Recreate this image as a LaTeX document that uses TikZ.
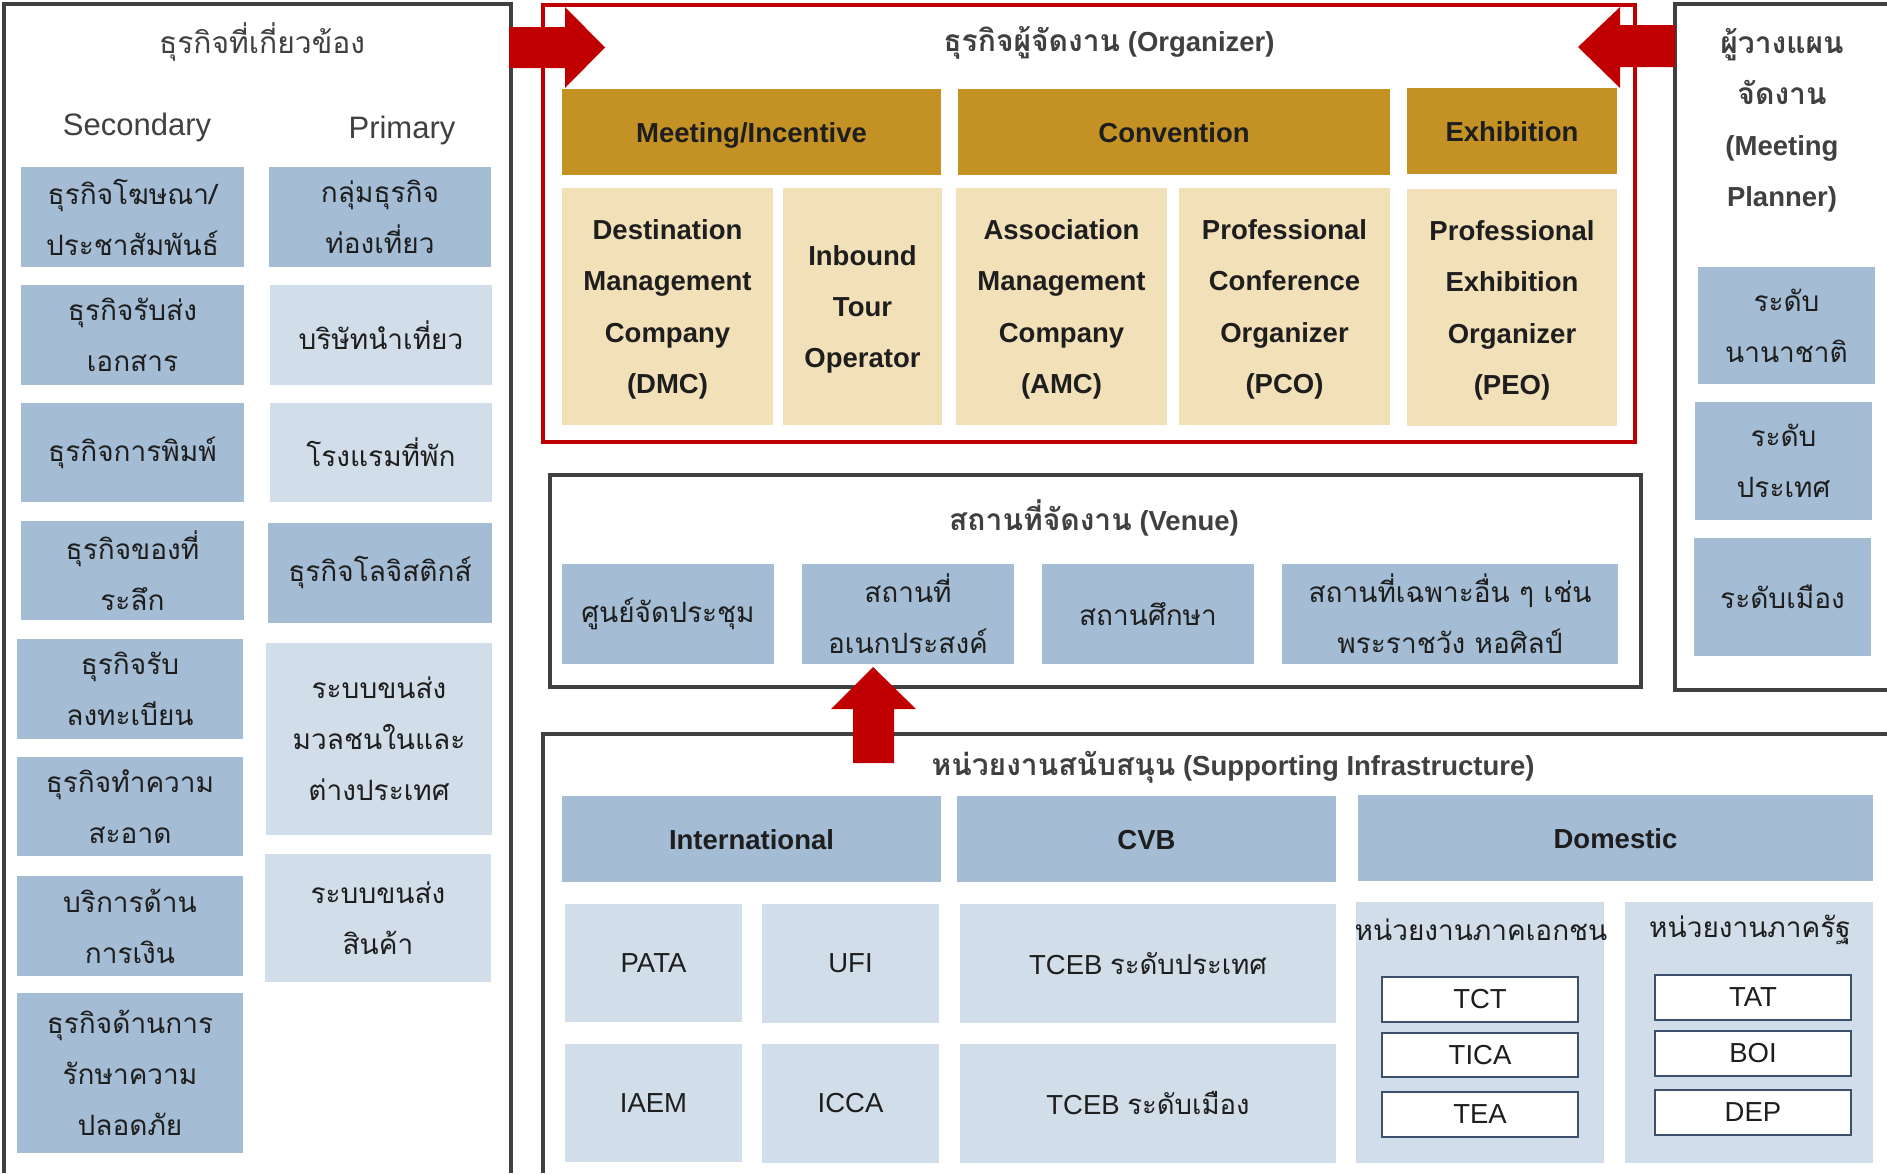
\documentclass[tikz,border=0pt]{standalone}
\usepackage{fontspec}
\setmainfont{Liberation Sans}
\newfontfamily\thai[Script=Thai]{Loma}
\definecolor{goldc}{RGB}{196,146,36}
\definecolor{beigec}{RGB}{242,224,184}
\definecolor{dbluec}{RGB}{164,188,212}
\definecolor{lbluec}{RGB}{209,221,232}
\definecolor{redc}{RGB}{192,0,0}
\definecolor{framec}{RGB}{64,64,64}
\definecolor{titlec}{RGB}{64,64,64}
\definecolor{txtc}{RGB}{30,30,30}
\definecolor{wbordc}{RGB}{60,80,110}
\newcommand\rbox[7]{\node[#1, minimum width={(#5)-(#3)}, minimum height={(#6)-(#4)}] (#2) at ({((#3)+(#5))/2},{((#4)+(#6))/2}) {#7};}
\newcommand\thaiT[1]{{\thai\fontsize{30}{36}\selectfont #1}}
\tikzset{
  base/.style={inner sep=0pt, outer sep=0pt, align=center, text=txtc},
  thaifnt/.style={font=\thai\fontsize{28}{51}\selectfont},
  dbox/.style={base, fill=dbluec, thaifnt},
  lbox/.style={base, fill=lbluec, thaifnt},
  ghead/.style={base, fill=goldc, text height=20pt, text depth=0pt, font=\bfseries\fontsize{27.5}{51}\selectfont},
  bsub/.style={base, fill=beigec, text depth=0pt, font=\bfseries\fontsize{27.5}{51.3}\selectfont},
  dhead/.style={base, fill=dbluec, text height=20pt, text depth=0pt, font=\bfseries\fontsize{27.5}{51}\selectfont},
  lat/.style={base, fill=lbluec, font=\fontsize{27.5}{51}\selectfont},
  panel/.style={base, fill=lbluec},
  wbox/.style={base, fill=white, draw=wbordc, line width=2pt, font=\fontsize{27.5}{33}\selectfont},
  frame/.style={draw=framec, line width=3.5pt},
  redframe/.style={draw=redc, line width=4pt},
  ttl/.style={inner sep=0pt, align=center, text=titlec},
  blockarrow/.style={fill=redc, draw=none},
}
\begin{document}
\begin{tikzpicture}[x=1pt,y=-1pt]
\useasboundingbox[fill=white] (0,0) rectangle (1887,1173);
% frames
\draw[frame] (4,1173) -- (4,4) -- (511,4) -- (511,1173);
\draw[frame] (1887,4) -- (1675,4) -- (1675,690) -- (1887,690);
\draw[frame] (550,475) rectangle (1641,687);
\draw[frame] (543,1173) -- (543,734) -- (1887,734);
\draw[redframe] (543,5) rectangle (1635,442);
% left panel
\node[ttl, font=\thai\fontsize{30}{36}\selectfont] (ltitle) at (262,42) {ธุรกิจที่เกี่ยวข้อง};
\node[ttl, font=\fontsize{31}{36}\selectfont] (sec) at (137,127) {Secondary};
\node[ttl, font=\fontsize{31}{36}\selectfont] (pri) at (402,130) {Primary};
\rbox{dbox}{s1}{21}{167}{244}{267}{ธุรกิจโฆษณา/\\ประชาสัมพันธ์}
\rbox{dbox}{s2}{21}{285}{244}{385}{ธุรกิจรับส่ง\\เอกสาร}
\rbox{dbox}{s3}{21}{403}{244}{502}{ธุรกิจการพิมพ์}
\rbox{dbox}{s4}{21}{521}{244}{620}{ธุรกิจของที่\\ระลึก}
\rbox{dbox}{s5}{17}{639}{243}{739}{ธุรกิจรับ\\ลงทะเบียน}
\rbox{dbox}{s6}{17}{757}{243}{856}{ธุรกิจทำความ\\สะอาด}
\rbox{dbox}{s7}{17}{876}{243}{976}{บริการด้าน\\การเงิน}
\rbox{dbox}{s8}{17}{993}{243}{1153}{ธุรกิจด้านการ\\รักษาความ\\ปลอดภัย}
\rbox{dbox}{p1}{269}{167}{491}{267}{กลุ่มธุรกิจ\\ท่องเที่ยว}
\rbox{lbox}{p2}{270}{285}{492}{385}{บริษัทนำเที่ยว}
\rbox{lbox}{p3}{270}{403}{492}{502}{โรงแรมที่พัก}
\rbox{dbox}{p4}{268}{523}{492}{623}{ธุรกิจโลจิสติกส์}
\rbox{lbox}{p5}{266}{643}{492}{835}{ระบบขนส่ง\\มวลชนในและ\\ต่างประเทศ}
\rbox{lbox}{p6}{265}{854}{491}{982}{ระบบขนส่ง\\สินค้า}
% organizer
\node[ttl, font=\bfseries\fontsize{27.5}{34}\selectfont] (otitle) at (1109,42.5) {\thaiT{ธุรกิจผู้จัดงาน} (Organizer)};
\rbox{ghead}{h1}{562}{89}{941}{175}{Meeting/Incentive}
\rbox{ghead}{h2}{958}{89}{1390}{175}{Convention}
\rbox{ghead}{h3}{1407}{88}{1617}{174}{Exhibition}
\rbox{bsub}{o1}{562}{188}{773}{425}{Destination\\Management\\Company\\(DMC)}
\rbox{bsub}{o2}{783}{188}{942}{425}{Inbound\\Tour\\Operator}
\rbox{bsub}{o3}{956}{188}{1167}{425}{Association\\Management\\Company\\(AMC)}
\rbox{bsub}{o4}{1179}{188}{1390}{425}{Professional\\Conference\\Organizer\\(PCO)}
\rbox{bsub}{o5}{1407}{189}{1617}{426}{Professional\\Exhibition\\Organizer\\(PEO)}
% planner
\node[ttl, font=\bfseries\fontsize{27.5}{51}\selectfont] (ptitle) at (1782,120) {\thaiT{ผู้วางแผน}\\\thaiT{จัดงาน}\\(Meeting\\Planner)};
\rbox{dbox}{r1}{1698}{267}{1875}{384}{ระดับ\\นานาชาติ}
\rbox{dbox}{r2}{1695}{402}{1872}{520}{ระดับ\\ประเทศ}
\rbox{dbox}{r3}{1694}{538}{1871}{656}{ระดับเมือง}
% venue
\node[ttl, font=\bfseries\fontsize{27.5}{34}\selectfont] (vtitle) at (1094,518) {\thaiT{สถานที่จัดงาน} (Venue)};
\rbox{dbox}{v1}{562}{564}{774}{664}{ศูนย์จัดประชุม}
\rbox{dbox}{v2}{802}{564}{1014}{664}{สถานที่\\อเนกประสงค์}
\rbox{dbox}{v3}{1042}{564}{1254}{664}{สถานศึกษา}
\rbox{dbox}{v4}{1282}{564}{1618}{664}{สถานที่เฉพาะอื่น ๆ เช่น\\พระราชวัง หอศิลป์}
% supporting
\node[ttl, font=\bfseries\fontsize{27.5}{34}\selectfont] (stitle) at (1233,767) {\thaiT{หน่วยงานสนับสนุน} (Supporting Infrastructure)};
\rbox{dhead}{i1}{562}{796}{941}{882}{International}
\rbox{dhead}{i2}{957}{796}{1336}{882}{CVB}
\rbox{dhead}{i3}{1358}{795}{1873}{881}{Domestic}
\rbox{lat}{pata}{565}{904}{742}{1022}{PATA}
\rbox{lat}{ufi}{762}{904}{939}{1023}{UFI}
\rbox{lat}{tceba}{960}{904}{1336}{1023}{TCEB {\thai ระดับประเทศ}}
\rbox{lat}{iaem}{565}{1044}{742}{1162}{IAEM}
\rbox{lat}{icca}{762}{1044}{939}{1163}{ICCA}
\rbox{lat}{tcebb}{960}{1044}{1336}{1163}{TCEB {\thai ระดับเมือง}}
\rbox{panel}{priv}{1356}{902}{1604}{1163}{}
\rbox{panel}{pub}{1625}{902}{1873}{1163}{}
\node[ttl, text=txtc, font=\thai\fontsize{28}{34}\selectfont] (privl) at (1481,930) {หน่วยงานภาคเอกชน};
\node[ttl, text=txtc, font=\thai\fontsize{28}{34}\selectfont] (publ) at (1750,930) {หน่วยงานภาครัฐ};
\rbox{wbox}{tct}{1382}{977}{1578}{1022}{TCT}
\rbox{wbox}{tica}{1382}{1033}{1578}{1077}{TICA}
\rbox{wbox}{tea}{1382}{1092}{1578}{1137}{TEA}
\rbox{wbox}{tat}{1655}{975}{1851}{1020}{TAT}
\rbox{wbox}{boi}{1655}{1031}{1851}{1076}{BOI}
\rbox{wbox}{dep}{1655}{1090}{1851}{1135}{DEP}
% block arrows
\fill[blockarrow] (509,27) -- (565,27) -- (565,7) -- (605,47.5) -- (565,88) -- (565,68) -- (509,68) -- cycle;
\fill[blockarrow] (1675,25) -- (1620,25) -- (1620,7) -- (1578,47) -- (1620,88) -- (1620,67) -- (1675,67) -- cycle;
\fill[blockarrow] (853,763) -- (853,709) -- (831,709) -- (873,667) -- (916,709) -- (894,709) -- (894,763) -- cycle;
\end{tikzpicture}
\end{document}
